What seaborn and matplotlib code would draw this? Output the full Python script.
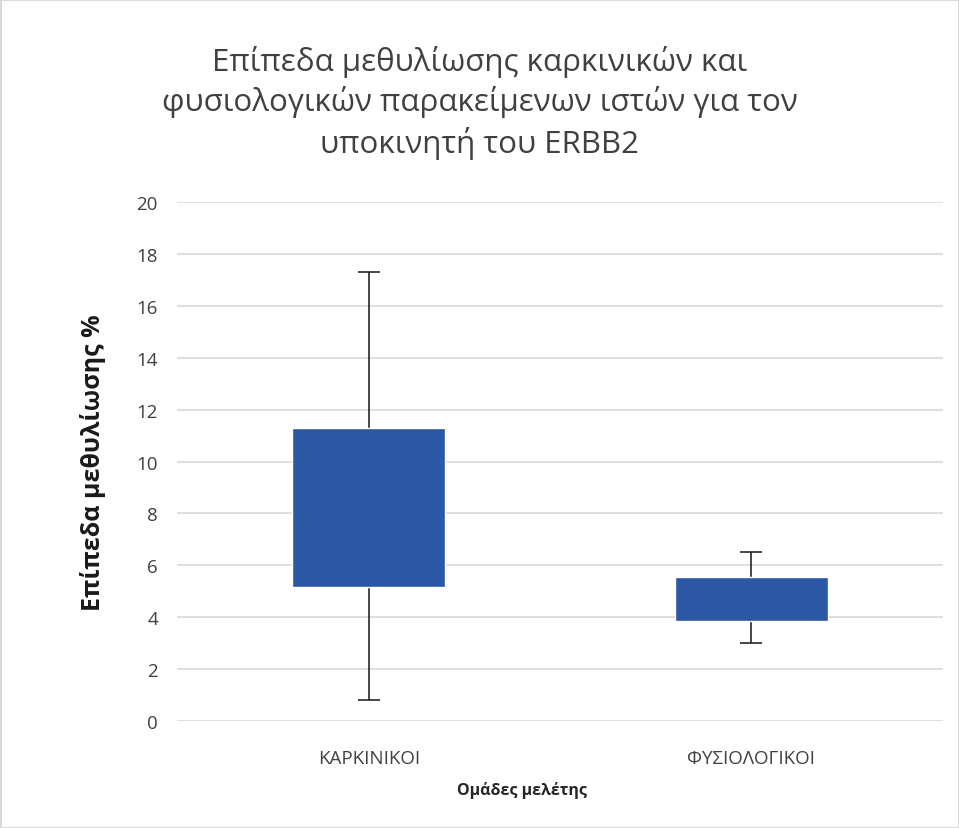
import pandas as pd
import matplotlib.pyplot as plt
import seaborn as sns

# values
groups = ['ΚΑΡΚΙΝΙΚΟΙ', 'ΦΥΣΙΟΛΟΓΙΚΟΙ']
q1 = [5.15, 3.85]
q3 = [11.3, 5.55]
whisker_low = [0.8, 3.0]
whisker_high = [17.3, 6.5]

sns.set_style("whitegrid")
plt.rcParams['font.family'] = ['Open Sans', 'DejaVu Sans']

df = pd.DataFrame({'group': groups, 'q1': q1, 'q3': q3,
                   'low': whisker_low, 'high': whisker_high})
df['box'] = df['q3'] - df['q1']

fig = plt.figure(figsize=(9.59, 8.29), dpi=100)
fig.patch.set_edgecolor('#d9d9d9')
fig.patch.set_linewidth(2)
ax = fig.add_axes([0.185, 0.129, 0.798, 0.626])

# whiskers first so the box sits on top
mid = (df['q1'] + df['q3']) / 2
ax.errorbar(range(len(df)), mid, yerr=[mid - df['low'], df['high'] - mid],
            fmt='none', ecolor='#262626', elinewidth=1.2, capsize=8, capthick=1.2, zorder=2)

sns.barplot(data=df, x='group', y='box', bottom=df['q1'], color='#2B57A5',
            saturation=1, width=0.4, ax=ax, zorder=3)

ax.set_ylim(0, 20)
ax.set_yticks(range(0, 21, 2))
ax.set_xlim(-0.5, 1.5)
ax.grid(axis='y', color='#d9d9d9', linewidth=1.2)
ax.grid(axis='x', visible=False)
for s in ax.spines.values():
    s.set_visible(False)
ax.tick_params(axis='both', length=0, labelsize=13.5, labelcolor='#404040')
ax.tick_params(axis='x', pad=20)
ax.tick_params(axis='y', pad=14)

ax.set_xlabel('Ομάδες μελέτης', fontsize=11.5, fontweight='bold', color='#262626', labelpad=10)
ax.xaxis.set_label_coords(0.45, -0.115)
ax.set_ylabel('Επίπεδα μεθυλίωσης %', fontsize=18, fontweight='bold', color='#1a1a1a', labelpad=22)
fig.suptitle('Επίπεδα μεθυλίωσης καρκινικών και\nφυσιολογικών παρακείμενων ιστών για τον\nυποκινητή του ERBB2',
             fontsize=22.5, color='#404040', y=0.945, linespacing=1.35)

plt.savefig('out.png', dpi=100)
plt.close()
